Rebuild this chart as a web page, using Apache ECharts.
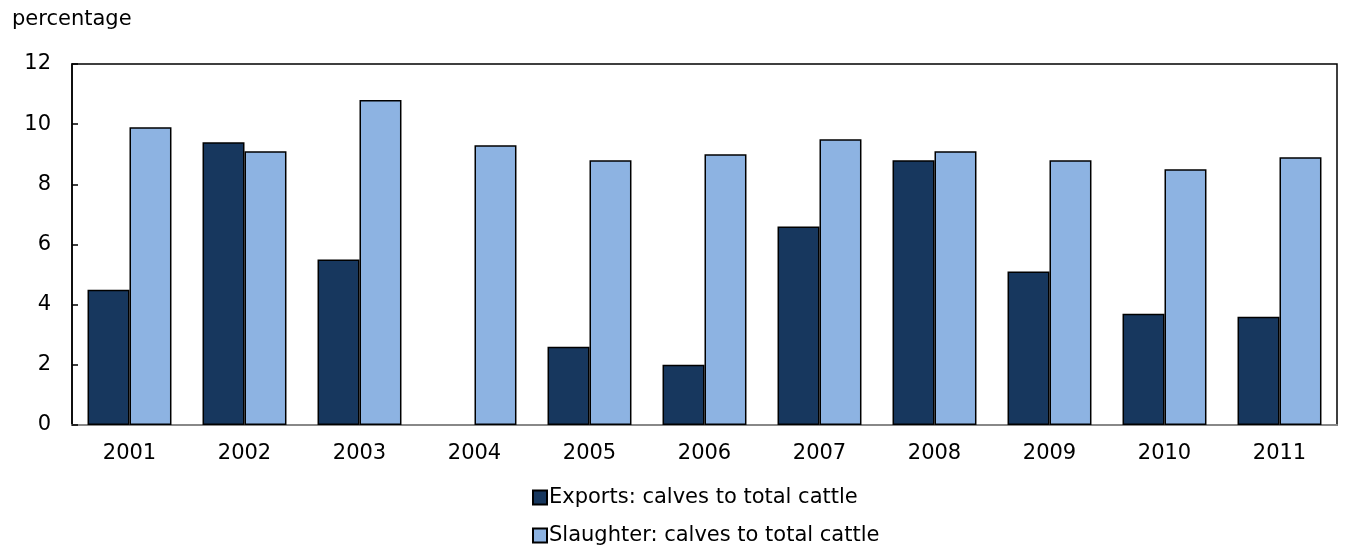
<!DOCTYPE html>
<html>
<head>
<meta charset="utf-8">
<script src="https://cdn.jsdelivr.net/npm/echarts@6/dist/echarts.min.js"></script>
<style>html,body{margin:0;padding:0;background:#fff;}#c{width:1359px;height:547px;}</style>
</head>
<body>
<div id="c"></div>
<script>
var categories = ['2001','2002','2003','2004','2005','2006','2007','2008','2009','2010','2011'];
var exportsCalves = [4.5, 9.4, 5.5, null, 2.6, 2.0, 6.6, 8.8, 5.1, 3.7, 3.6];
var slaughterCalves = [9.9, 9.1, 10.8, 9.3, 8.8, 9.0, 9.5, 9.1, 8.8, 8.5, 8.9];
var seriesNames = ['Exports: calves to total cattle', 'Slaughter: calves to total cattle'];
var yTicks = [0, 2, 4, 6, 8, 10, 12];

var FONT = 'DejaVu Sans';
var FS = 21;
function legendAt(name, top) {
  return {
    orient: 'vertical', left: 527, top: top,
    itemWidth: 14, itemHeight: 14,
    icon: 'rect',
    textStyle: {fontFamily: FONT, fontSize: FS, color: '#000', padding: [0,0,0,-3]},
    data: [name]
  };
}
var chart = echarts.init(document.getElementById('c'));
chart.setOption({
  animation: false,
  textStyle: {fontFamily: FONT, color: '#000'},
  title: {
    text: 'percentage', left: 7, top: 4,
    textStyle: {fontFamily: FONT, fontSize: FS, fontWeight: 'normal', color: '#000'}
  },
  grid: {
    left: 72, right: 22, top: 64, bottom: 122,
    show: true, borderColor: '#000', borderWidth: 1.5, backgroundColor: 'transparent'
  },
  legend: [legendAt(seriesNames[0], 482), legendAt(seriesNames[1], 520)],
  xAxis: {
    type: 'category', data: categories,
    axisLine: {lineStyle: {color: '#888', width: 2}},
    axisTick: {show: false},
    axisLabel: {fontFamily: FONT, fontSize: FS, color: '#000', margin: 18}
  },
  yAxis: {
    type: 'value', min: yTicks[0], max: yTicks[yTicks.length-1], interval: 2,
    axisLine: {show: true, lineStyle: {color: '#000', width: 1.5}},
    axisTick: {show: true, inside: true, length: 6, lineStyle: {color: '#000', width: 1.5}},
    splitLine: {show: false},
    axisLabel: {fontFamily: FONT, fontSize: FS, color: '#000', margin: 21}
  },
  series: [
    {
      name: seriesNames[0], type: 'bar', data: exportsCalves,
      barGap: '0%', barCategoryGap: '27%',
      itemStyle: {color: '#17375E', borderColor: '#000', borderWidth: 1.5}
    },
    {
      name: seriesNames[1], type: 'bar', data: slaughterCalves,
      barGap: '0%', barCategoryGap: '27%',
      itemStyle: {color: '#8DB3E2', borderColor: '#000', borderWidth: 1.5}
    }
  ]
});
</script>
</body>
</html>
